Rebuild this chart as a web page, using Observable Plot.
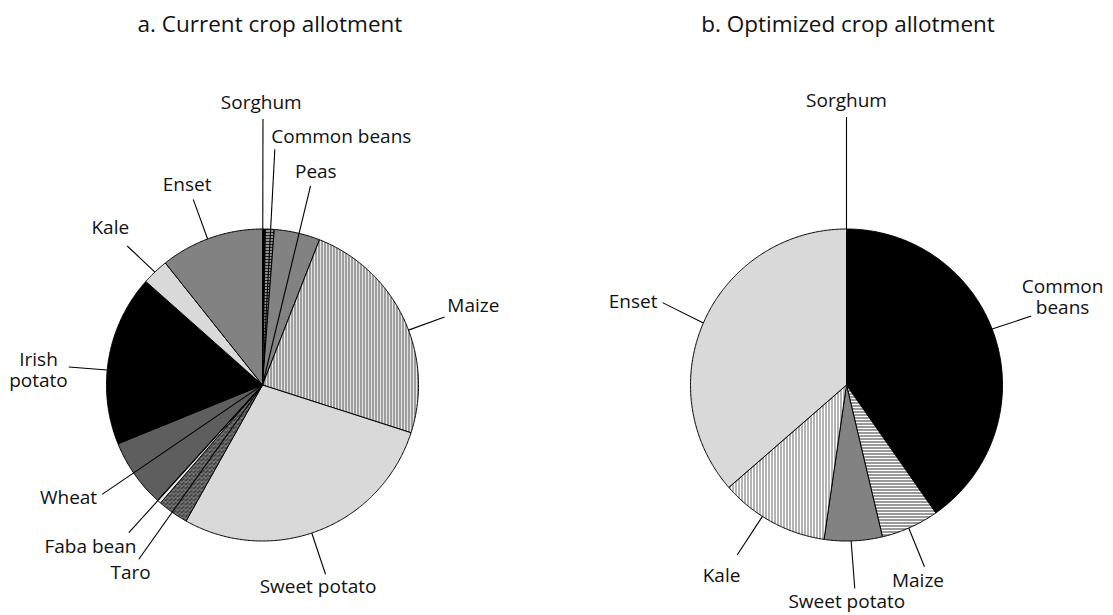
<!DOCTYPE html>
<html><head><meta charset="utf-8">
<script src="https://cdn.jsdelivr.net/npm/d3@7"></script>
<script src="https://cdn.jsdelivr.net/npm/@observablehq/plot@0.6"></script>
<style>
html,body{margin:0;padding:0;background:#fff;}
#chart svg{display:block;}
</style>
</head><body><div id="chart"></div>
<script>
// ---------- data ----------
const panelTitles = ["a. Current crop allotment", "b. Optimized crop allotment"];

const cropsA  = ["Sorghum","Common beans","Peas","Maize","Sweet potato","Taro","Faba bean","Wheat","Irish potato","Kale","Enset"];
const sharesA = [0.3, 0.9, 4.75, 24.0, 28.2, 3.2, 0.4, 7.1, 17.7, 2.75, 10.7];

const cropsB  = ["Sorghum","Common beans","Maize","Sweet potato","Kale","Enset"];
const sharesB = [0, 40.3, 6.0, 6.0, 11.3, 36.4];

const labelTextA = {"Irish potato": "Irish\npotato"};
const labelTextB = {"Common beans": "Common\nbeans"};

// ---------- styles ----------
const fillsA = {
  "Sorghum": "#000000", "Common beans": "url(#hgrid)", "Peas": "#828282",
  "Maize": "url(#vhatchA)", "Sweet potato": "#d9d9d9", "Taro": "url(#stipple)",
  "Faba bean": "#ececec", "Wheat": "#5e5e5e", "Irish potato": "#000000",
  "Kale": "#d9d9d9", "Enset": "#828282"
};
const fillsB = {
  "Sorghum": "#000000", "Common beans": "#000000", "Maize": "url(#hhatch)",
  "Sweet potato": "#828282", "Kale": "url(#vhatchB)", "Enset": "#d9d9d9"
};

// ---------- layout (in pie-radius units, y up) ----------
const W = 1113, H = 615, RPX = 156;          // pixels per radius
const centerA = [262, 384.5], centerB = [846, 384.5]; // pixel layout of pie centres
const cxA = 0, cxB = (centerB[0] - centerA[0]) / RPX;
const xDomain = [-centerA[0] / RPX, (W - centerA[0]) / RPX];
const yDomain = [-(H - centerA[1]) / RPX, centerA[1] / RPX];

// label layout: text position, anchor, leader end, leader origin ("center" or "edge"), optional angle (deg)
const layoutA = {
  "Sorghum":      {t:[-0.008, 1.769], a:"middle", l:[0.003, 1.705], from:"center"},
  "Common beans": {t:[0.056, 1.553],  a:"start",  l:[0.079, 1.511], from:"center"},
  "Peas":         {t:[0.208, 1.329],  a:"start",  l:[0.308, 1.276], from:"center"},
  "Maize":        {t:[1.185, 0.468],  a:"start",  l:[1.167, 0.436], from:"edge", at:69.4},
  "Sweet potato": {t:[0.356, -1.333], a:"middle", l:[0.404, -1.213], from:"edge", at:161.6},
  "Taro":         {t:[-0.846, -1.244],a:"middle", l:[-0.793, -1.117], from:"center"},
  "Faba bean":    {t:[-1.103, -1.077],a:"middle", l:[-0.857, -0.947], from:"center"},
  "Wheat":        {t:[-1.06, -0.761], a:"end",    l:[-1.028, -0.701], from:"center"},
  "Irish potato": {t:[-1.436, -0.013],a:"middle", l:[-1.242, 0.115], from:"edge", at:275.5},
  "Kale":         {t:[-0.855, 0.966], a:"end",    l:[-0.867, 0.891], from:"edge", at:316.4},
  "Enset":        {t:[-0.483, 1.244], a:"middle", l:[-0.444, 1.19],  from:"edge", at:339.4}
};
const layoutB = {
  "Sorghum":      {t:[0, 1.78],       a:"middle", l:[0, 1.718], from:"edge", at:0},
  "Common beans": {t:[1.385, 0.455],  a:"middle", l:[1.184, 0.442], from:"edge", at:69},
  "Maize":        {t:[0.458, -1.293], a:"middle", l:[0.5, -1.165], from:"edge", at:156.5},
  "Sweet potato": {t:[0.002, -1.43],  a:"middle", l:[0.053, -1.305], from:"edge", at:178.3},
  "Kale":         {t:[-0.801, -1.261],a:"middle", l:[-0.701, -1.09], from:"edge", at:212.6},
  "Enset":        {t:[-1.212, 0.495], a:"end",    l:[-1.179, 0.528], from:"edge", at:293.4}
};
const titleLayout = [{dx: 0.048, y: 2.266}, {dx: 0.01, y: 2.266}];

// ---------- build mark data ----------
function slicePoints(panel, crops, shares, cx, fills) {
  const total = d3.sum(shares);
  let acc = 0;
  const pts = [];
  crops.forEach((c, i) => {
    const a0 = acc / total * 2 * Math.PI;
    acc += shares[i];
    const a1 = acc / total * 2 * Math.PI;
    if (a1 <= a0) return;
    const n = Math.max(2, Math.ceil((a1 - a0) / (Math.PI / 360)));
    const id = panel + ":" + c;
    pts.push({id, fill: fills[c], x: cx, y: 0});
    for (let k = 0; k <= n; k++) {
      const t = a0 + (a1 - a0) * k / n;
      pts.push({id, fill: fills[c], x: cx + Math.sin(t), y: Math.cos(t)});
    }
    pts.push({id, fill: fills[c], x: cx, y: 0});
  });
  return pts;
}
function midAngles(crops, shares) {
  const total = d3.sum(shares);
  let acc = 0;
  const m = {};
  crops.forEach((c, i) => { m[c] = (acc + shares[i] / 2) / total * 2 * Math.PI; acc += shares[i]; });
  return m;
}
function labelRows(crops, shares, cx, layout, texts) {
  const mids = midAngles(crops, shares);
  return crops.map(c => {
    const L = layout[c];
    const ang = L.at != null ? L.at * Math.PI / 180 : mids[c];
    const start = L.from === "center" ? [cx, 0] : [cx + Math.sin(ang), Math.cos(ang)];
    return {
      text: texts[c] || c, anchor: L.a,
      tx: cx + L.t[0], ty: L.t[1],
      x1: start[0], y1: start[1], x2: cx + L.l[0], y2: L.l[1]
    };
  });
}

const slices = [
  ...slicePoints("a", cropsA, sharesA, cxA, fillsA),
  ...slicePoints("b", cropsB, sharesB, cxB, fillsB)
];
const labels = [
  ...labelRows(cropsA, sharesA, cxA, layoutA, labelTextA),
  ...labelRows(cropsB, sharesB, cxB, layoutB, labelTextB)
];
const titles = panelTitles.map((t, i) => ({text: t, x: [cxA, cxB][i] + titleLayout[i].dx, y: titleLayout[i].y}));

const textMark = anchor => Plot.text(labels.filter(d => d.anchor === anchor), {
  x: "tx", y: "ty", text: "text", textAnchor: anchor, lineAnchor: "bottom",
  lineHeight: 1.13, fontSize: 19, fill: "#111"
});

const chart = Plot.plot({
  width: W, height: H, margin: 0,
  x: {domain: xDomain, axis: null},
  y: {domain: yDomain, axis: null},
  color: {type: "identity"},
  style: {fontFamily: "'Open Sans', sans-serif", fontSize: "19px", background: "#fff", color: "#000"},
  marks: [
    Plot.line(slices, {x: "x", y: "y", z: "id", fill: "fill", stroke: "#000", strokeWidth: 1}),
    Plot.link(labels, {x1: "x1", y1: "y1", x2: "x2", y2: "y2", stroke: "#000", strokeWidth: 1.1}),
    textMark("start"), textMark("middle"), textMark("end"),
    Plot.text(titles, {x: "x", y: "y", text: "text", lineAnchor: "bottom", fontSize: 22.5, fill: "#111"})
  ]
});

d3.select(chart).insert("defs", ":first-child").html(`
  <pattern id="vhatchA" width="3" height="3" patternUnits="userSpaceOnUse">
    <rect width="3" height="3" fill="#e6e6e6"/><rect width="1" height="3" fill="#555"/>
  </pattern>
  <pattern id="vhatchB" width="3" height="3" patternUnits="userSpaceOnUse">
    <rect width="3" height="3" fill="#ffffff"/><rect width="1" height="3" fill="#666"/>
  </pattern>
  <pattern id="hhatch" width="3" height="3" patternUnits="userSpaceOnUse">
    <rect width="3" height="3" fill="#ffffff"/><rect width="3" height="1" fill="#333"/>
  </pattern>
  <pattern id="hgrid" width="3" height="3" patternUnits="userSpaceOnUse">
    <rect width="3" height="3" fill="#ffffff"/><rect width="3" height="2" fill="#222"/>
  </pattern>
  <pattern id="stipple" width="4" height="4" patternUnits="userSpaceOnUse">
    <rect width="4" height="4" fill="#6e6e6e"/>
    <rect x="0" y="0" width="1" height="1" fill="#111"/>
    <rect x="2" y="1" width="1" height="1" fill="#1a1a1a"/>
    <rect x="1" y="3" width="1" height="1" fill="#111"/>
    <rect x="3" y="2" width="1" height="1" fill="#222"/>
    <rect x="2" y="3" width="1" height="1" fill="#333"/>
    <rect x="1" y="1" width="1" height="1" fill="#bdbdbd"/>
    <rect x="3" y="0" width="1" height="1" fill="#a8a8a8"/>
  </pattern>
`);

document.getElementById("chart").appendChild(chart);
</script>
</body></html>
